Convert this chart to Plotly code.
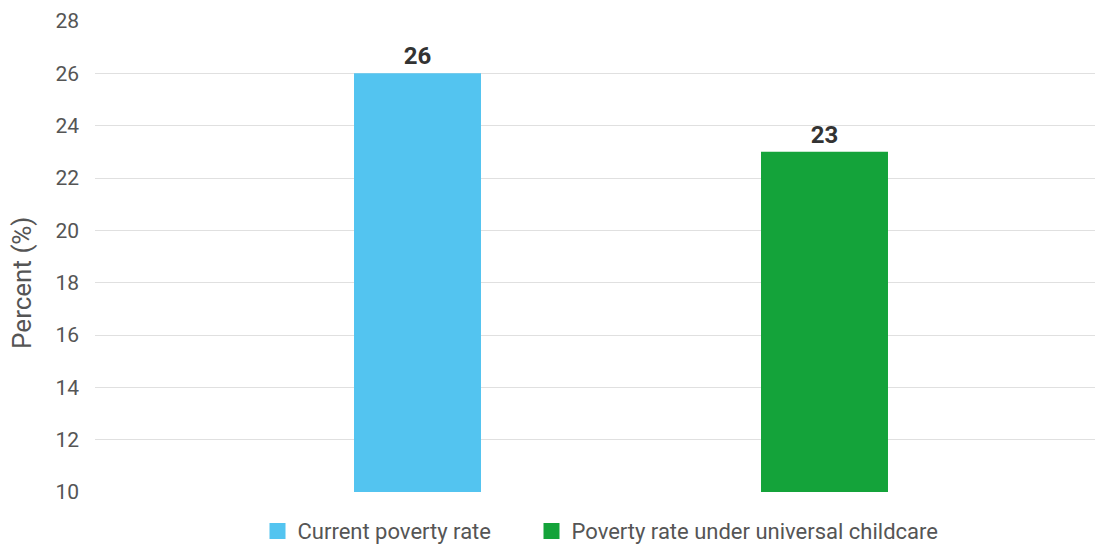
import plotly.graph_objects as go

series_names = ["Current poverty rate", "Poverty rate under universal childcare"]
series_values = [26, 23]
series_colors = ["#53C4F0", "#14A33A"]
category = [""]
y_ticks = [10, 12, 14, 16, 18, 20, 22, 24, 26, 28]

fig = go.Figure()
for name, val, col in zip(series_names, series_values, series_colors):
    fig.add_trace(go.Bar(
        x=category, y=[val], name=name, marker=dict(color=col, line=dict(width=0)),
        text=[f"<b>{val}</b>"], textposition="outside", cliponaxis=False,
        textfont=dict(family="Roboto", size=24, color="#333333"),
        showlegend=False, legendgroup=name,
    ))
# legend entries with larger square swatches, one legend box each
legend_ids = ["legend", "legend2"]
for name, col, lg in zip(series_names, series_colors, legend_ids):
    fig.add_trace(go.Scatter(
        x=[None], y=[None], mode="markers", name=name, legendgroup=name,
        marker=dict(symbol="square", size=17, color=col), showlegend=True,
        legend=lg,
    ))

legend_style = dict(orientation="h", xanchor="left", y=-0.083, yanchor="middle",
                    font=dict(family="Roboto", size=22, color="#555555"),
                    itemwidth=30, bgcolor="rgba(0,0,0,0)")

fig.update_layout(
    width=1095, height=544,
    margin=dict(l=95, r=0, t=21, b=52, autoexpand=False),
    paper_bgcolor="white", plot_bgcolor="white",
    barmode="group", bargap=0.186, bargroupgap=0.688,
    font=dict(family="Roboto", color="#555555"),
    showlegend=True,
    legend=dict(x=0.1625, **legend_style),
    legend2=dict(x=0.4365, **legend_style),
    xaxis=dict(range=[-0.526, 0.474], showticklabels=False, showgrid=False,
               zeroline=False, showline=False, fixedrange=True),
    yaxis=dict(range=[10, 28], tickvals=y_ticks, showgrid=True, gridcolor="#E0E0E0",
               gridwidth=1, zeroline=False, showline=False,
               tickfont=dict(family="Roboto", size=21, color="#555555"),
               ticklabelstandoff=15),
    annotations=[dict(text="Percent (%)", xref="paper", yref="paper",
                      x=-0.073, y=0.444, textangle=-90, showarrow=False,
                      font=dict(family="Roboto", size=26, color="#555555"),
                      xanchor="center", yanchor="middle")],
)

fig.write_html("out.html")
